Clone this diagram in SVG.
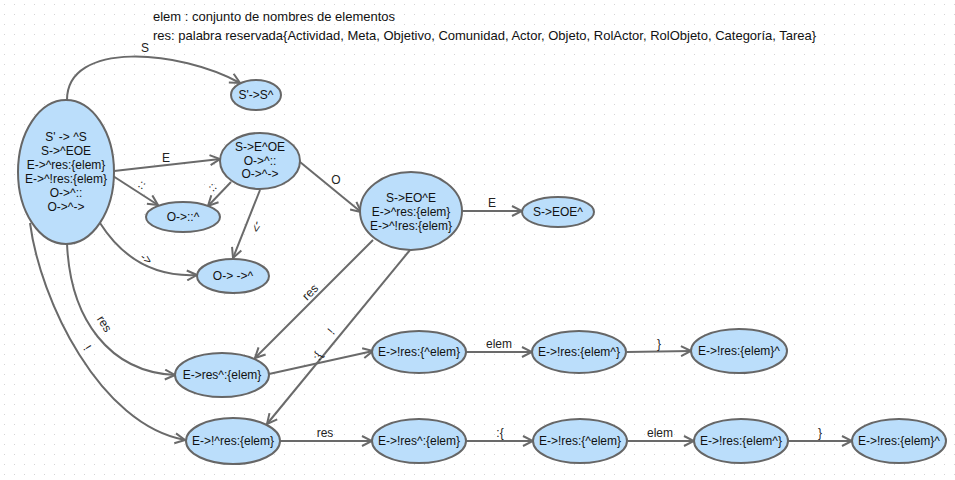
<svg xmlns="http://www.w3.org/2000/svg" width="955" height="480" viewBox="0 0 955 480">
<style>
.n ellipse{fill:#bbdefb;stroke:#666;stroke-width:2}
.n text{font-family:"Liberation Sans",Arial,sans-serif;font-size:12px;fill:#111;text-anchor:middle}
.e path{fill:none;stroke:#6a6a6a;stroke-width:2;marker-end:url(#arr)}
.l{font-family:"Liberation Sans",Arial,sans-serif;font-size:12px;fill:#222;text-anchor:middle}
.t{font-family:"Liberation Sans",Arial,sans-serif;font-size:13px;fill:#111}
</style>
<defs>
<pattern id="grid" width="10" height="10" patternUnits="userSpaceOnUse">
<rect x="4" y="4" width="1" height="1" fill="#d4d4d4"/>
</pattern>
<marker id="arr" viewBox="0 0 12 12" refX="11" refY="6" markerWidth="12" markerHeight="12" markerUnits="userSpaceOnUse" orient="auto">
<path d="M1,1 L11,6 L1,11" fill="none" stroke="#6a6a6a" stroke-width="2"/>
</marker>
</defs>
<rect width="955" height="480" fill="#fff"/>
<rect width="955" height="480" fill="url(#grid)"/>
<g id="legend">
<text class="t" x="153" y="21">elem : conjunto de nombres de elementos</text>
<text class="t" x="153" y="40">res: palabra reservada{Actividad, Meta, Objetivo, Comunidad, Actor, Objeto, RolActor, RolObjeto, Categoría, Tarea}</text>
</g>
<g id="edges" class="e">
<path d="M67,100 C67,40 180,50 240,83"/>
<path d="M114,171 L220,159"/>
<path d="M113,176 L158,205"/>
<path d="M231,182 L208,206"/>
<path d="M260,190 L233,258"/>
<path d="M100,223 Q135,278 197,275"/>
<path d="M300,162 L361,212"/>
<path d="M462,211 L522,211"/>
<path d="M373,240 L255,358"/>
<path d="M410,250 L267,424"/>
<path d="M269,374 L373,351"/>
<path d="M67,243 C70,320 110,372 175,375"/>
<path d="M30,223 C40,300 100,425 185,440"/>
<path d="M466,352 L532,352"/>
<path d="M627,352 L691,351"/>
<path d="M280,441 L372,441"/>
<path d="M466,441 L533,441"/>
<path d="M628,441 L694,441"/>
<path d="M788,441 L852,441"/>
</g>
<g id="edge-labels">
<text class="l" x="145" y="52">S</text>
<text class="l" x="166" y="162">E</text>
<text class="l" transform="translate(140,188) rotate(32)">::</text>
<text class="l" transform="translate(215,190) rotate(-45)">::</text>
<text class="l" transform="translate(253,226) rotate(100)">-&gt;</text>
<text class="l" transform="translate(144,262) rotate(35)">-&gt;</text>
<text class="l" x="336" y="184">O</text>
<text class="l" x="492" y="207">E</text>
<text class="l" transform="translate(313,295) rotate(-45)">res</text>
<text class="l" transform="translate(334,334) rotate(-50)">!</text>
<text class="l" transform="translate(321,358) rotate(-60)">:{</text>
<text class="l" transform="translate(101,326) rotate(58)">res</text>
<text class="l" transform="translate(84,350) rotate(58)">!</text>
<text class="l" x="499" y="348">elem</text>
<text class="l" x="659" y="348">}</text>
<text class="l" x="325" y="437">res</text>
<text class="l" x="500" y="437">:{</text>
<text class="l" x="660" y="437">elem</text>
<text class="l" x="820" y="437">}</text>
</g>
<g id="n0" class="n"><ellipse cx="66" cy="172" rx="48" ry="72"/>
<text x="66" y="141">S' -&gt; ^S</text><text x="66" y="155">S-&gt;^EOE</text><text x="66" y="169">E-&gt;^res:{elem}</text><text x="66" y="183">E-&gt;^!res:{elem}</text><text x="66" y="197">O-&gt;^::</text><text x="66" y="211">O-&gt;^-&gt;</text></g>
<g id="n1" class="n"><ellipse cx="256" cy="95" rx="25" ry="15"/><text x="256" y="99">S'-&gt;S^</text></g>
<g id="n2" class="n"><ellipse cx="260" cy="161" rx="40" ry="28"/>
<text x="260" y="151">S-&gt;E^OE</text><text x="260" y="165">O-&gt;^::</text><text x="260" y="178">O-&gt;^-&gt;</text></g>
<g id="n3" class="n"><ellipse cx="183" cy="217" rx="37" ry="15"/><text x="183" y="221">O-&gt;::^</text></g>
<g id="n4" class="n"><ellipse cx="233" cy="276" rx="36" ry="17"/><text x="233" y="280">O-&gt; -&gt;^</text></g>
<g id="n5" class="n"><ellipse cx="411" cy="211" rx="51" ry="39"/>
<text x="411" y="202">S-&gt;EO^E</text><text x="411" y="216">E-&gt;^res:{elem}</text><text x="411" y="230">E-&gt;^!res:{elem}</text></g>
<g id="n6" class="n"><ellipse cx="558" cy="212" rx="36" ry="15"/><text x="558" y="216">S-&gt;EOE^</text></g>
<g id="n7" class="n"><ellipse cx="222" cy="375" rx="47" ry="22"/><text x="222" y="379">E-&gt;res^:{elem}</text></g>
<g id="n8" class="n"><ellipse cx="233" cy="441" rx="47" ry="23"/><text x="233" y="445">E-&gt;!^res:{elem}</text></g>
<g id="n9" class="n"><ellipse cx="419" cy="352" rx="47" ry="21"/><text x="419" y="356">E-&gt;!res:{^elem}</text></g>
<g id="n10" class="n"><ellipse cx="579" cy="352" rx="47" ry="21"/><text x="579" y="356">E-&gt;!res:{elem^}</text></g>
<g id="n11" class="n"><ellipse cx="739" cy="351" rx="48" ry="22"/><text x="739" y="355">E-&gt;!res:{elem}^</text></g>
<g id="n12" class="n"><ellipse cx="419" cy="441" rx="47" ry="22"/><text x="419" y="445">E-&gt;!res^:{elem}</text></g>
<g id="n13" class="n"><ellipse cx="580" cy="441" rx="47" ry="22"/><text x="580" y="445">E-&gt;!res:{^elem}</text></g>
<g id="n14" class="n"><ellipse cx="741" cy="441" rx="47" ry="22"/><text x="741" y="445">E-&gt;!res:{elem^}</text></g>
<g id="n15" class="n"><ellipse cx="899" cy="441" rx="47" ry="22"/><text x="899" y="445">E-&gt;!res:{elem}^</text></g>
</svg>
